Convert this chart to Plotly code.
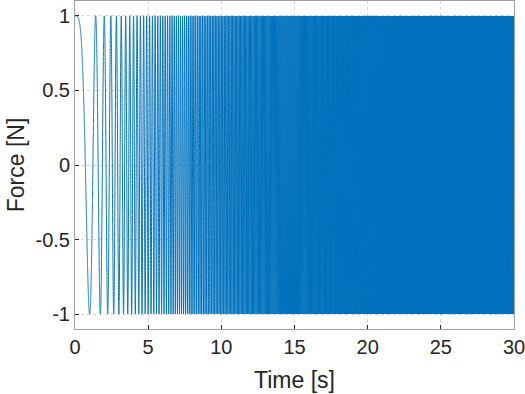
import numpy as np
import plotly.graph_objects as go

# Values: linear chirp, amplitude 1, 0 Hz at t=0 rising to 30 Hz at t=30 s
t_start = 0.0
t_end = 30.0
f_start = 0.0
f_end = 30.0
amplitude = 1.0
sample_step = 0.001

x_ticks = [0, 5, 10, 15, 20, 25, 30]
y_ticks = [-1, -0.5, 0, 0.5, 1]
y_tick_labels = ["-1", "-0.5", "0", "0.5", "1"]

t = np.arange(t_start, t_end + sample_step / 2, sample_step)
rate = (f_end - f_start) / (t_end - t_start)
force = amplitude * np.cos(2 * np.pi * (f_start * t + 0.5 * rate * t ** 2))

fig = go.Figure(go.Scatter(x=t, y=force, mode="lines",
                           line=dict(color="#0072BD", width=1.0, simplify=False)))

font = dict(family="Liberation Sans, Arial, sans-serif", size=20, color="#262626")
title_font = dict(family="Liberation Sans, Arial, sans-serif", size=23, color="#262626")
fig.update_layout(
    width=525, height=394,
    margin=dict(l=75, r=11, t=1, b=65),
    paper_bgcolor="white", plot_bgcolor="white",
    font=font, showlegend=False,
)
fig.update_xaxes(range=[0, 30], tickvals=x_ticks, ticks="inside", ticklen=4,
                 tickcolor="#262626", showline=True, linecolor="#a0a0a0", linewidth=1,
                 mirror=True, showgrid=True, gridcolor="#d9d9d9", griddash="dot",
                 zeroline=False, automargin=False, ticklabeloverflow="allow",
                 title=dict(text="Time [s]", font=title_font, standoff=14))
fig.update_yaxes(range=[-1.1, 1.1], tickvals=y_ticks, ticktext=y_tick_labels,
                 ticks="inside", ticklen=4, tickcolor="#262626",
                 showline=True, linecolor="#a0a0a0", linewidth=1, mirror=True,
                 showgrid=True, gridcolor="#d9d9d9", griddash="dot",
                 zeroline=False, automargin=False, ticklabeloverflow="allow",
                 title=dict(text="Force [N]", font=title_font, standoff=4))
fig.write_html("out.html", config={"displayModeBar": False},
               post_script="document.body.style.margin='0';document.body.style.overflow='hidden';")
